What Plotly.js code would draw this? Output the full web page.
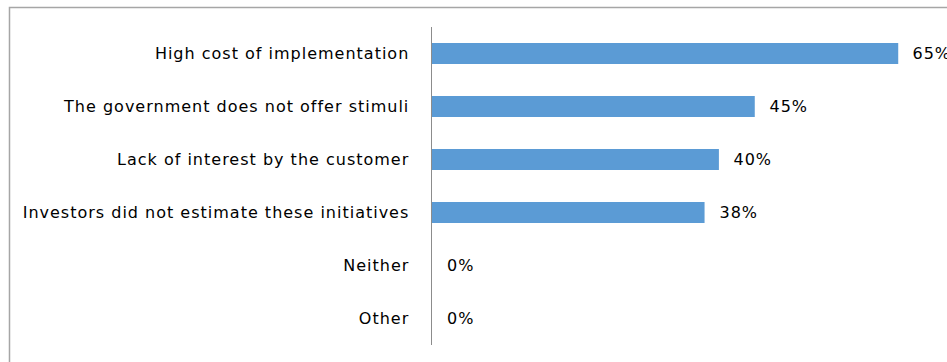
<!DOCTYPE html>
<html>
<head>
<meta charset="utf-8">
<script src="https://cdn.plot.ly/plotly-3.0.1.min.js"></script>
<style>
html,body{margin:0;padding:0;background:#fff;}
#chart{width:947px;height:362px;}
#chart .ytick text, #chart .annotation-text{letter-spacing:1px;}
</style>
</head>
<body>
<div id="chart"></div>
<script>
var categories = [
  "High cost of implementation",
  "The government does not offer stimuli",
  "Lack of interest by the customer",
  "Investors did not estimate these initiatives",
  "Neither",
  "Other"
];
var values = [65, 45, 40, 38, 0, 0];
var valueLabels = ["65%", "45%", "40%", "38%", "0%", "0%"];

var FONT = "DejaVu Sans, sans-serif";

var trace = {
  type: "bar",
  orientation: "h",
  y: categories,
  x: values,
  width: 0.4,
  marker: {color: "#5b9bd5", line: {width: 0}},
  hoverinfo: "none"
};

var annotations = categories.map(function(c, i){
  return {
    x: values[i], y: c, xref: "x", yref: "y",
    text: valueLabels[i], showarrow: false,
    xanchor: "left", yanchor: "middle", xshift: 14,
    font: {family: FONT, size: 16, color: "#000"}
  };
});

var layout = {
  width: 947, height: 362,
  margin: {l: 432, r: 0, t: 27, b: 17, pad: 0},
  paper_bgcolor: "#fff", plot_bgcolor: "#fff",
  showlegend: false,
  xaxis: {visible: false, range: [0, 71.8], fixedrange: true},
  yaxis: {
    type: "category",
    categoryorder: "array", categoryarray: categories,
    autorange: "reversed",
    showline: true, linecolor: "#8c8c8c", linewidth: 1.5,
    showgrid: false, zeroline: false, ticks: "",
    ticklabelstandoff: 18,
    tickfont: {family: FONT, size: 16, color: "#000"}
  },
  annotations: annotations,
  shapes: [{
    type: "rect", xref: "paper", yref: "paper",
    x0: -0.8204, x1: 1.2, y0: -0.3, y1: 1.0613,
    line: {color: "#a6a6a6", width: 1.5}, fillcolor: "rgba(0,0,0,0)", layer: "below"
  }]
};

Plotly.newPlot("chart", [trace], layout, {displayModeBar: false, staticPlot: true});
</script>
</body>
</html>
